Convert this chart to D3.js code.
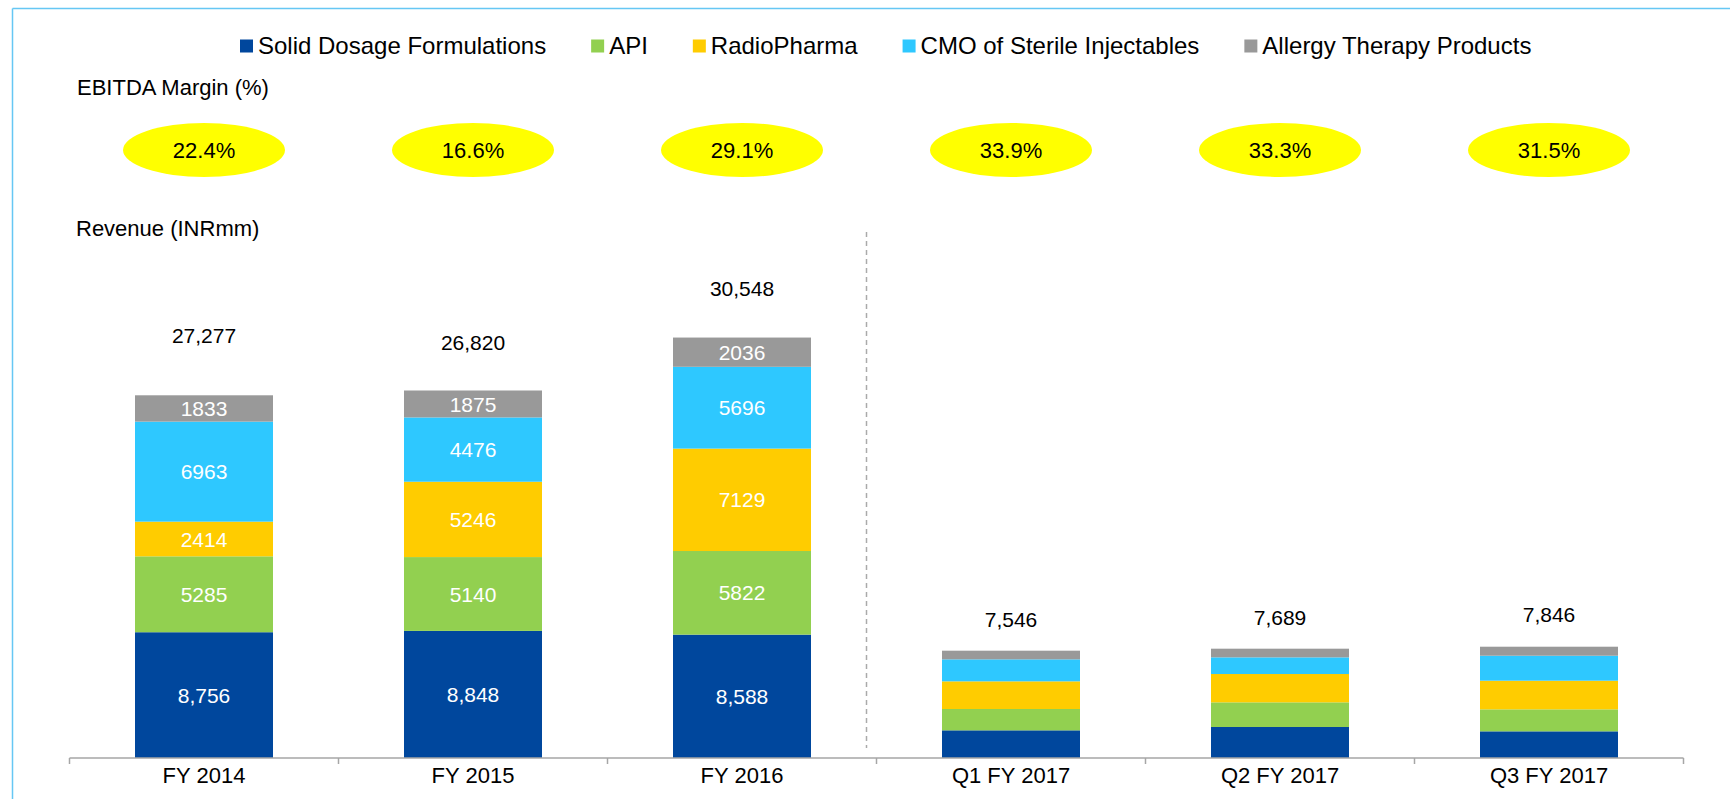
<!DOCTYPE html>
<html>
<head>
<meta charset="utf-8">
<script src="https://cdn.jsdelivr.net/npm/d3@7"></script>
<style>
  body { margin: 0; background: #fff; }
  svg { display: block; font-family: 'Liberation Sans', Arial, sans-serif; }
</style>
</head>
<body>
<div id="chart"></div>
<script>
const categories = ['FY 2014', 'FY 2015', 'FY 2016', 'Q1 FY 2017', 'Q2 FY 2017', 'Q3 FY 2017'];
const seriesNames = ['Solid Dosage Formulations', 'API', 'RadioPharma', 'CMO of Sterile Injectables', 'Allergy Therapy Products'];
const solidDosage = [8756, 8848, 8588, 1926, 2158, 1856];
const api = [5285, 5140, 5822, 1485, 1717, 1531];
const radioPharma = [2414, 5246, 7129, 1926, 1972, 1995];
const cmoSterile = [6963, 4476, 5696, 1531, 1160, 1740];
const allergy = [1833, 1875, 2036, 603, 603, 626];
const totals = [27277, 26820, 30548, 7546, 7689, 7846];
const ebitdaMargin = [22.4, 16.6, 29.1, 33.9, 33.3, 31.5];
// only the yearly bars carry segment labels
const labelledCats = ['FY 2014', 'FY 2015', 'FY 2016'];

const colors = ['#00479d', '#92d050', '#ffcc00', '#2ec8ff', '#999999'];
const seriesValues = [solidDosage, api, radioPharma, cmoSterile, allergy];

const width = 1730, height = 799;
const svg = d3.select('#chart').append('svg')
  .attr('width', width)
  .attr('height', height);

// frame lines top and left
svg.append('line').attr('x1', 12.5).attr('x2', width).attr('y1', 8.5).attr('y2', 8.5)
  .attr('stroke', '#66c7f4').attr('stroke-width', 1.5);
svg.append('line').attr('x1', 12.5).attr('x2', 12.5).attr('y1', 8.5).attr('y2', height)
  .attr('stroke', '#66c7f4').attr('stroke-width', 1.5);

const x = d3.scaleBand()
  .domain(categories)
  .range([69.5, 1683.5])
  .paddingInner(0.487)
  .paddingOuter(0.2435);

const y = d3.scaleLinear()
  .domain([0, 35000])
  .range([758, 758 - 35000 * 0.014364]);

const rows = categories.map((c, i) => {
  const r = { cat: c };
  seriesNames.forEach((s, j) => { r[s] = seriesValues[j][i]; });
  return r;
});
const stacked = d3.stack().keys(seriesNames)(rows);

const fmtComma = d3.format(',');
const fmtPlain = d3.format('d');

const layers = svg.append('g').selectAll('g')
  .data(stacked)
  .join('g')
  .attr('fill', (d, i) => colors[i]);

layers.selectAll('rect')
  .data(d => d)
  .join('rect')
  .attr('x', d => x(d.data.cat))
  .attr('y', d => y(d[1]))
  .attr('height', d => y(d[0]) - y(d[1]))
  .attr('width', x.bandwidth());

// white segment labels
stacked.forEach((layer, j) => {
  svg.append('g')
    .selectAll('text')
    .data(layer.filter(d => labelledCats.includes(d.data.cat)))
    .join('text')
    .attr('x', d => x(d.data.cat) + x.bandwidth() / 2)
    .attr('y', d => (y(d[0]) + y(d[1])) / 2)
    .attr('dy', '0.36em')
    .attr('text-anchor', 'middle')
    .attr('fill', '#fff')
    .attr('font-size', '21px')
    .text(d => (j === 0 ? fmtComma : fmtPlain)(d[1] - d[0]));
});

// totals above the bars
svg.append('g')
  .selectAll('text')
  .data(categories)
  .join('text')
  .attr('x', d => x(d) + x.bandwidth() / 2)
  .attr('y', (d, i) => y(totals[i]) - 23)
  .attr('text-anchor', 'middle')
  .attr('font-size', '21px')
  .attr('fill', '#000')
  .text((d, i) => fmtComma(totals[i]));

// EBITDA margin ellipses
const marg = svg.append('g').selectAll('g')
  .data(categories)
  .join('g')
  .attr('transform', d => `translate(${x(d) + x.bandwidth() / 2}, 150)`);
marg.append('ellipse')
  .attr('rx', 81)
  .attr('ry', 27)
  .attr('fill', '#ffff00');
marg.append('text')
  .attr('text-anchor', 'middle')
  .attr('dy', '0.36em')
  .attr('font-size', '22px')
  .text((d, i) => ebitdaMargin[i].toFixed(1) + '%');

// section titles
svg.append('text').attr('x', 77).attr('y', 95).attr('font-size', '22px').text('EBITDA Margin (%)');
svg.append('text').attr('x', 76).attr('y', 236).attr('font-size', '22px').text('Revenue (INRmm)');

// divider between yearly and quarterly bars
const divX = x(categories[3]) - (x.step() - x.bandwidth()) / 2 - 10;
svg.append('line')
  .attr('x1', divX).attr('x2', divX)
  .attr('y1', 232).attr('y2', 748)
  .attr('stroke', '#aaaaaa')
  .attr('stroke-width', 1.5)
  .attr('stroke-dasharray', '5,4');

// x axis
const axisG = svg.append('g')
  .attr('transform', `translate(0, ${y(0)})`)
  .call(d3.axisBottom(x).tickSize(0).tickPadding(9));
axisG.select('.domain').remove();
axisG.selectAll('text').attr('font-size', '22px').attr('fill', '#000')
  .attr('font-family', "'Liberation Sans', Arial, sans-serif");
const [r0, r1] = x.range();
axisG.append('line')
  .attr('x1', r0).attr('x2', r1)
  .attr('stroke', '#a6a6a6').attr('stroke-width', 1.5);
axisG.selectAll('.bound')
  .data(d3.range(categories.length + 1))
  .join('line')
  .attr('class', 'bound')
  .attr('x1', i => r0 + i * x.step())
  .attr('x2', i => r0 + i * x.step())
  .attr('y1', 0).attr('y2', 6)
  .attr('stroke', '#a6a6a6').attr('stroke-width', 1.5);

// legend
const legend = svg.append('g').attr('transform', 'translate(240, 0)');
let lx = 0;
seriesNames.forEach((name, i) => {
  const item = legend.append('g').attr('transform', `translate(${lx}, 0)`);
  item.append('rect')
    .attr('x', 0).attr('y', 39.5)
    .attr('width', 13).attr('height', 13)
    .attr('fill', colors[i]);
  const t = item.append('text')
    .attr('x', 18).attr('y', 54)
    .attr('font-size', '24px')
    .text(name);
  lx += 18 + t.node().getComputedTextLength() + 45;
});
</script>
</body>
</html>
